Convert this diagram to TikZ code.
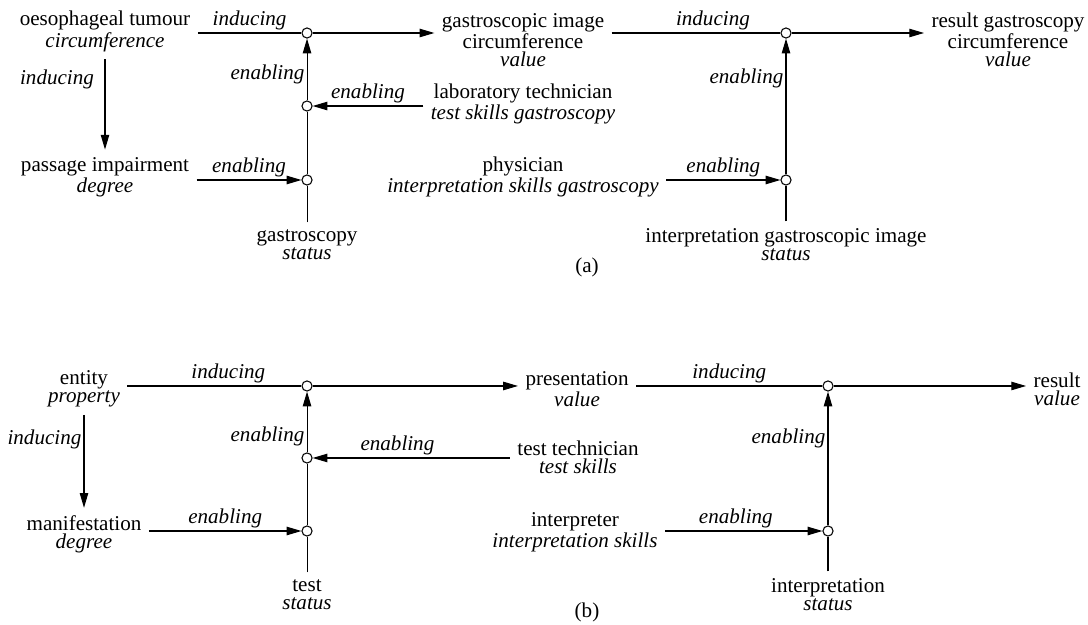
\documentclass[tikz,border=0pt]{standalone}
\usepackage{fontspec}
\setmainfont{Liberation Serif}[ItalicFont={Liberation Serif Italic}]
\usetikzlibrary{arrows.meta}

\tikzset{
  txt/.style={align=center, font=\fontsize{10}{8.5}\selectfont},
  jn/.style={circle, draw, inner sep=0pt, minimum size=4.8pt},
  lbl/.style={font=\itshape, inner sep=1pt},
  arr/.style={-{Triangle[length=7pt,width=4pt]}},
  every path/.style={line width=0.5pt}
}

\begin{document}
\begin{tikzpicture}
\useasboundingbox (0,0) rectangle (18.133,-10.4);

% (a)
\node[txt] (tum) at (1.75,-0.525) {oesophageal tumour\\\textit{circumference}};
\node[txt] (gimg) at (8.717,-0.667) {gastroscopic image\\circumference\\\textit{value}};
\node[txt] (res) at (16.8,-0.667) {result gastroscopy\\circumference\\\textit{value}};
\node[txt] (pass) at (1.75,-2.95) {passage impairment\\\textit{degree}};
\node[txt] (lab) at (8.717,-1.733) {laboratory technician\\\textit{test skills gastroscopy}};
\node[txt] (phys) at (8.717,-2.95) {physician\\\textit{interpretation skills gastroscopy}};
\node[txt] (gst) at (5.117,-4.083) {gastroscopy\\\textit{status}};
\node[txt] (igi) at (13.1,-4.083) {interpretation gastroscopic image\\\textit{status}};
\node (capa) at (9.783,-4.45) {(a)};

\node[jn] (c11) at (5.117,-0.55) {};
\node[jn] (c12) at (5.117,-1.767) {};
\node[jn] (c13) at (5.117,-3.0) {};
\node[jn] (c21) at (13.1,-0.55) {};
\node[jn] (c22) at (13.1,-3.0) {};

\draw (tum.east |- c11) -- node[lbl,above] {inducing} (c11);
\draw[arr] (c11) -- (c11 -| gimg.west);
\draw (gimg.east |- c21) -- node[lbl,above,pos=0.6] {inducing} (c21);
\draw[arr] (c21) -- (c21 -| res.west);
\draw[arr] (tum.south) -- node[lbl,left=4pt,pos=0.22] {inducing} (pass.north);
\draw[arr] (pass.east |- c13) -- node[lbl,above] {enabling} (c13);
\draw[arr] (lab.west |- c12) -- node[lbl,above] {enabling} (c12);
\draw[arr] (phys.east |- c22) -- node[lbl,above] {enabling} (c22);
\draw (gst.north) -- (c13) -- (c12);
\draw[arr] (c12) -- node[lbl,left,pos=0.42] {enabling} (c11);
\draw (igi.north) -- (c22);
\draw[arr] (c22) -- node[lbl,left,pos=0.71] {enabling} (c21);

% (b)
\node[txt] (ent) at (1.4,-6.483) {entity\\\textit{property}};
\node[txt] (pres) at (9.617,-6.483) {presentation\\\textit{value}};
\node[txt] (resb) at (17.617,-6.483) {result\\\textit{value}};
\node[txt] (man) at (1.4,-8.9) {manifestation\\\textit{degree}};
\node[txt] (tt) at (9.633,-7.617) {test technician\\\textit{test skills}};
\node[txt] (intp) at (9.583,-8.867) {interpreter\\\textit{interpretation skills}};
\node[txt] (test) at (5.117,-9.917) {test\\\textit{status}};
\node[txt] (intb) at (13.8,-9.917) {interpretation\\\textit{status}};
\node (capb) at (9.783,-10.2) {(b)};

\node[jn] (d11) at (5.117,-6.433) {};
\node[jn] (d12) at (5.117,-7.633) {};
\node[jn] (d13) at (5.117,-8.85) {};
\node[jn] (d21) at (13.8,-6.433) {};
\node[jn] (d22) at (13.8,-8.85) {};

\draw (ent.east |- d11) -- node[lbl,above,pos=0.58] {inducing} (d11);
\draw[arr] (d11) -- (d11 -| pres.west);
\draw (pres.east |- d21) -- node[lbl,above] {inducing} (d21);
\draw[arr] (d21) -- (d21 -| resb.west);
\draw[arr] (ent.south) -- node[lbl,left,pos=0.26] {inducing} (man.north);
\draw[arr] (man.east |- d13) -- node[lbl,above] {enabling} (d13);
\draw[arr] (tt.west |- d12) -- node[lbl,above,pos=0.57] {enabling} (d12);
\draw[arr] (intp.east |- d22) -- node[lbl,above,pos=0.45] {enabling} (d22);
\draw (test.north) -- (d13) -- (d12);
\draw[arr] (d12) -- node[lbl,left,pos=0.27] {enabling} (d11);
\draw (intb.north) -- (d22);
\draw[arr] (d22) -- node[lbl,left,pos=0.65] {enabling} (d21);
\end{tikzpicture}
\end{document}
